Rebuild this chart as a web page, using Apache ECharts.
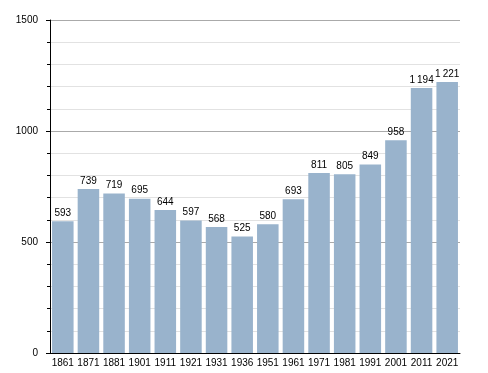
<!DOCTYPE html>
<html><head><meta charset="utf-8">
<script src="https://cdn.jsdelivr.net/npm/echarts@6/dist/echarts.min.js"></script>
<style>html,body{margin:0;padding:0;background:#fff}#c{width:488px;height:373px}</style>
</head><body><div id="c"></div>
<script>
const years = ['1861','1871','1881','1901','1911','1921','1931','1936','1951','1961','1971','1981','1991','2001','2011','2021'];
const population = [593,739,719,695,644,597,568,525,580,693,811,805,849,958,1194,1221];
const yTicks = [0,500,1000,1500];

const chart = echarts.init(document.getElementById('c'), null, {renderer:'canvas'});
const font = 'Liberation Sans, Arial, sans-serif';
const fmt = v => String(v).replace(/\B(?=(\d{3})+(?!\d))/g,'\u2009');
chart.setOption({
  animation:false,
  grid:{left:50,right:28,top:20,bottom:20},
  xAxis:{type:'category',data:years,
    axisLine:{lineStyle:{color:'#000',width:1}},
    axisTick:{show:false},
    axisLabel:{color:'#000',fontFamily:font,fontSize:10,margin:5,interval:0}},
  yAxis:{type:'value',min:yTicks[0],max:yTicks[yTicks.length-1],interval:500,
    axisLine:{show:true,lineStyle:{color:'#000',width:1}},
    axisTick:{show:true,length:4,lineStyle:{color:'#000'}},
    minorTick:{show:true,splitNumber:5,length:3,lineStyle:{color:'#000'}},
    splitLine:{lineStyle:{color:'#aaaaaa',width:1}},
    minorSplitLine:{show:true,lineStyle:{color:'#e2e2e2',width:1}},
    axisLabel:{color:'#000',fontFamily:font,fontSize:10,margin:12,formatter:v=>String(v)}},
  series:[{type:'bar',data:population,barCategoryGap:'16%',
    itemStyle:{color:'#99b3cc'},
    label:{show:true,position:'top',distance:3,color:'#000',fontFamily:font,fontSize:10,
      formatter:p=>fmt(p.value)}}]
});
</script></body></html>
